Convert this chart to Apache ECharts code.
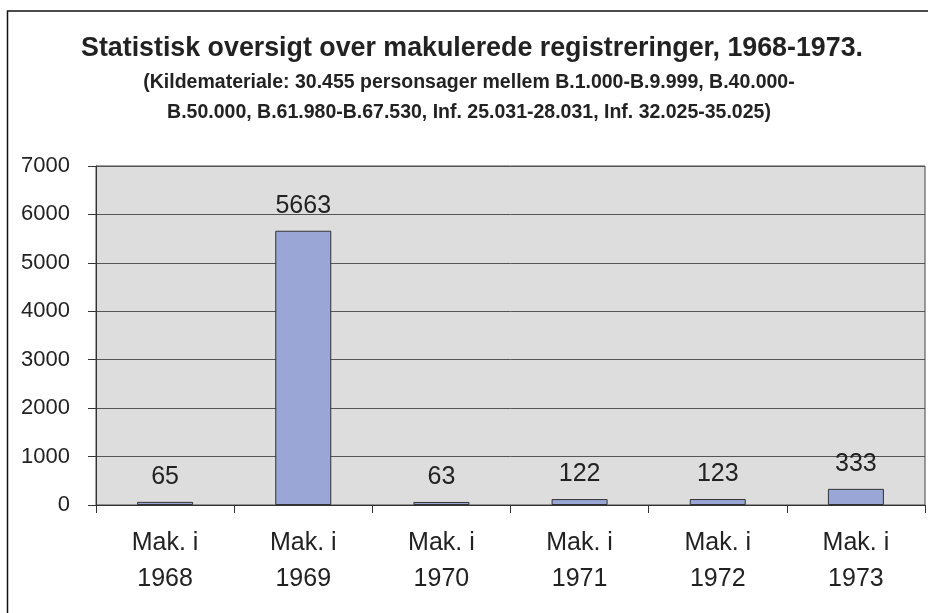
<!DOCTYPE html>
<html>
<head>
<meta charset="utf-8">
<script src="https://cdn.jsdelivr.net/npm/echarts@6/dist/echarts.min.js"></script>
<style>
html, body { margin: 0; padding: 0; background: #fff; }
#chart { width: 928px; height: 613px; }
</style>
</head>
<body>
<div id="chart"></div>
<script>
// 数据
var years = ['1968', '1969', '1970', '1971', '1972', '1973'];
var counts = [65, 5663, 63, 122, 123, 333];
var yTicks = [0, 1000, 2000, 3000, 4000, 5000, 6000, 7000];

var titleText = 'Statistisk oversigt over makulerede registreringer, 1968-1973.';
var subText = '(Kildemateriale: 30.455 personsager mellem B.1.000-B.9.999, B.40.000-\nB.50.000, B.61.980-B.67.530, Inf. 25.031-28.031, Inf. 32.025-35.025)';

var chart = echarts.init(document.getElementById('chart'));

var option = {
	backgroundColor: '#fff',
	animation: false,
	textStyle: { fontFamily: 'Liberation Sans, Arial, sans-serif', color: '#222' },
	graphic: [{
		// 外框
		type: 'rect',
		shape: { x: 7.5, y: 11, width: 940, height: 640 },
		style: { fill: 'none', stroke: '#111', lineWidth: 1.5 },
		silent: true
	}, {
		type: 'text',
		x: 472,
		y: 49,
		style: {
			text: titleText,
			font: 'bold 26.8px "Liberation Sans", Arial, sans-serif',
			fill: '#222',
			align: 'center',
			verticalAlign: 'middle'
		}
	}, {
		type: 'text',
		x: 469,
		y: 68,
		style: {
			text: subText,
			font: 'bold 19.5px "Liberation Sans", Arial, sans-serif',
			fill: '#222',
			align: 'center',
			lineHeight: 30
		}
	}],
	grid: {
		left: 96,
		right: 3,
		top: 166,
		bottom: 108,
		show: true,
		backgroundColor: '#DDDDDE',
		borderColor: '#444',
		borderWidth: 1
	},
	xAxis: {
		type: 'category',
		data: years,
		axisLine: { lineStyle: { color: '#333', width: 1 } },
		axisTick: { show: true, length: 8, alignWithLabel: false, lineStyle: { color: '#333' } },
		axisLabel: {
			margin: 20,
			fontSize: 25,
			lineHeight: 36,
			color: '#222',
			formatter: function (v) { return 'Mak. i\n' + v; }
		}
	},
	yAxis: {
		type: 'value',
		min: yTicks[0],
		max: yTicks[yTicks.length - 1],
		interval: 1000,
		axisLine: { show: true, lineStyle: { color: '#333' } },
		axisTick: { show: true, length: 8, lineStyle: { color: '#333' } },
		axisLabel: {
			fontSize: 22,
			margin: 26,
			color: '#222',
			formatter: function (v) { return String(v); }
		},
		splitLine: { lineStyle: { color: '#555', width: 1 } }
	},
	series: [{
		type: 'bar',
		data: counts,
		barWidth: 56,
		itemStyle: { color: '#99A6D6', borderColor: '#333', borderWidth: 1 },
		label: {
			show: true,
			position: 'top',
			distance: 12,
			fontSize: 25,
			color: '#222'
		}
	}]
};

chart.setOption(option);
</script>
</body>
</html>
